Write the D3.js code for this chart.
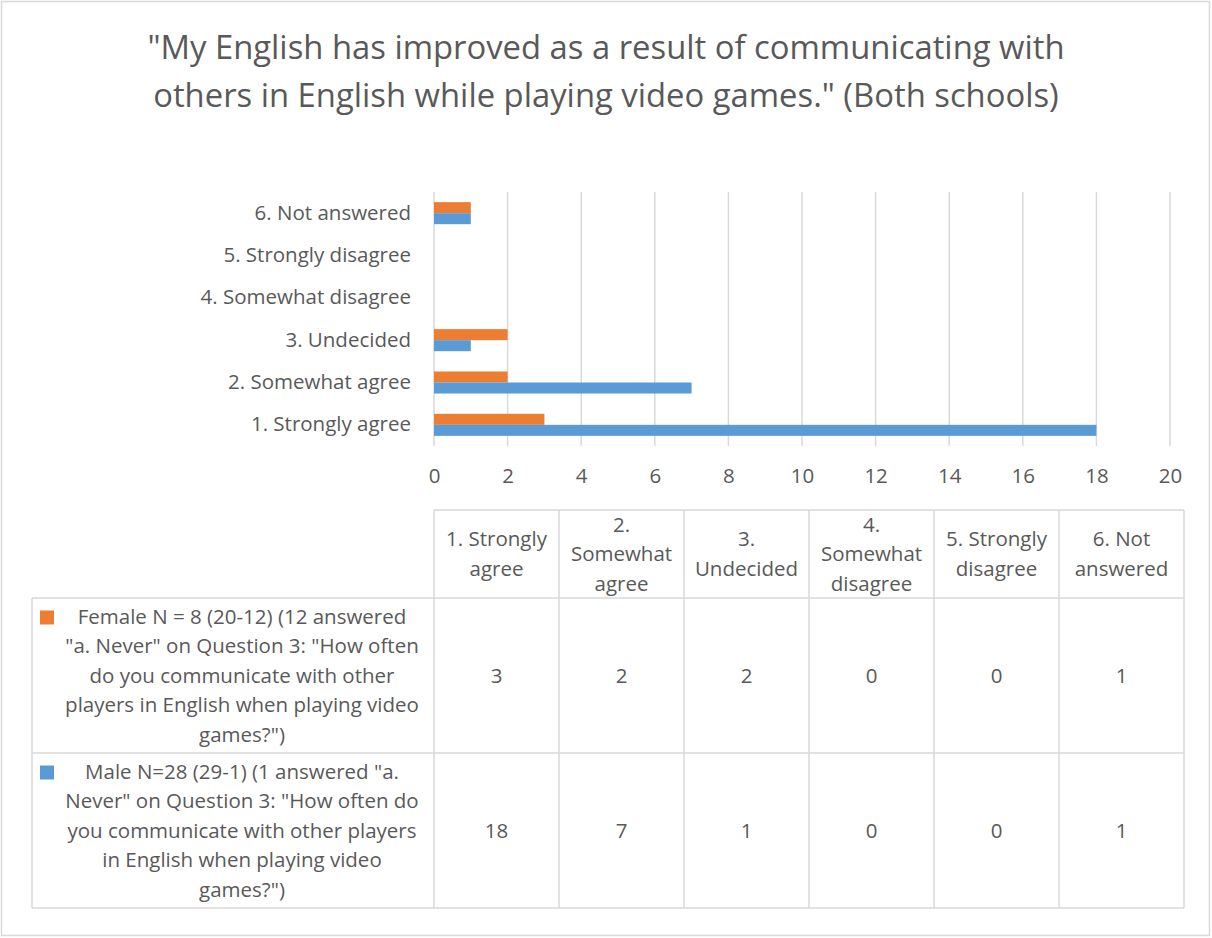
<!DOCTYPE html>
<html>
<head>
<meta charset="utf-8">
<script src="https://cdn.jsdelivr.net/npm/d3@7"></script>
<style>
  html, body { margin: 0; padding: 0; background: #fff; }
  svg text { font-family: "Open Sans", "Noto Sans", sans-serif; fill: #595959; }
</style>
</head>
<body>
<svg id="chart" width="1212" height="938"></svg>
<script>
// Survey responses by category
const categories = ["1. Strongly agree", "2. Somewhat agree", "3. Undecided",
                    "4. Somewhat disagree", "5. Strongly disagree", "6. Not answered"];
const headerLines = [["1. Strongly", "agree"], ["2.", "Somewhat", "agree"], ["3.", "Undecided"],
                     ["4.", "Somewhat", "disagree"], ["5. Strongly", "disagree"], ["6. Not", "answered"]];
const femaleValues = [3, 2, 2, 0, 0, 1];
const maleValues = [18, 7, 1, 0, 0, 1];
const xTicks = [0, 2, 4, 6, 8, 10, 12, 14, 16, 18, 20];
const titleLines = ["\"My English has improved as a result of communicating with",
                    "others in English while playing video games.\" (Both schools)"];
const femaleLegend = ["Female N = 8 (20-12) (12 answered", "\"a. Never\" on Question 3: \"How often",
                      "do you communicate with other", "players in English when playing video", "games?\")"];
const maleLegend = ["Male N=28 (29-1) (1 answered \"a.", "Never\" on Question 3: \"How often do",
                    "you communicate with other players", "in English when playing video", "games?\")"];

const series = [
  { key: "female", values: femaleValues, color: "#ED7D31", legend: femaleLegend },
  { key: "male", values: maleValues, color: "#5B9BD5", legend: maleLegend }
];

const svg = d3.select("#chart");
const gridColor = "#d9d9d9";
const fs = 20.5;

// chart frame
svg.append("rect").attr("x", 1.5).attr("y", 1.5).attr("width", 1208).attr("height", 934)
  .attr("fill", "#fff").attr("stroke", gridColor).attr("stroke-width", 1.5);

// title
svg.append("g").selectAll("text").data(titleLines).join("text")
  .attr("x", 606).attr("y", (d, i) => 59 + i * 48)
  .attr("text-anchor", "middle").attr("font-size", 32.8)
  .text(d => d);

// scales
const x = d3.scaleLinear().domain([0, 20]).range([434, 1170]);
const y = d3.scaleBand().domain(categories.slice().reverse()).range([192, 446]);
const ySub = d3.scaleBand().domain(series.map(s => s.key)).range([0, y.bandwidth()])
  .paddingInner(0).paddingOuter(0.92);

// vertical gridlines
svg.append("g").selectAll("line").data(xTicks).join("line")
  .attr("x1", d => x(d)).attr("x2", d => x(d))
  .attr("y1", 192).attr("y2", 446)
  .attr("stroke", gridColor).attr("stroke-width", 1.5);

// value axis labels
const xAxis = svg.append("g").attr("transform", "translate(0,446)")
  .call(d3.axisBottom(x).tickValues(xTicks).tickSize(0).tickPadding(22).tickFormat(d3.format("d")));
xAxis.select(".domain").remove();
xAxis.selectAll("text").attr("font-size", fs).attr("font-family", "Open Sans").attr("fill", "#595959");

// category labels
const yAxis = svg.append("g").attr("transform", "translate(434,0)")
  .call(d3.axisLeft(y).tickSize(0).tickPadding(23));
yAxis.select(".domain").remove();
yAxis.selectAll("text").attr("font-size", fs).attr("font-family", "Open Sans").attr("fill", "#595959");

// bars
series.forEach(s => {
  svg.append("g").selectAll("rect").data(categories.map((c, i) => ({ c, v: s.values[i] })))
    .join("rect")
    .attr("x", x(0))
    .attr("y", d => y(d.c) + ySub(s.key))
    .attr("width", d => x(d.v) - x(0))
    .attr("height", ySub.bandwidth())
    .attr("fill", s.color);
});

// data table
const colX = d3.scaleBand().domain(categories).range([434, 1184]);
const tableTop = 510, headerBottom = 598, rowBottoms = [753, 908], tableLeft = 32;
const tbl = svg.append("g").attr("stroke", gridColor).attr("stroke-width", 1.5);
// horizontal lines
tbl.append("line").attr("x1", 434).attr("x2", 1184).attr("y1", tableTop).attr("y2", tableTop);
[headerBottom, ...rowBottoms].forEach(yy =>
  tbl.append("line").attr("x1", tableLeft).attr("x2", 1184).attr("y1", yy).attr("y2", yy));
// vertical lines
tbl.append("line").attr("x1", tableLeft).attr("x2", tableLeft).attr("y1", headerBottom).attr("y2", rowBottoms[1]);
categories.forEach(c => tbl.append("line").attr("x1", colX(c)).attr("x2", colX(c))
  .attr("y1", tableTop).attr("y2", rowBottoms[1]));
tbl.append("line").attr("x1", 1184).attr("x2", 1184).attr("y1", tableTop).attr("y2", rowBottoms[1]);

// header cells
const lineH = 29.5;
categories.forEach((c, i) => {
  const lines = headerLines[i];
  const cy = (tableTop + headerBottom) / 2;
  svg.append("g").selectAll("text").data(lines).join("text")
    .attr("x", colX(c) + colX.bandwidth() / 2)
    .attr("y", (d, j) => cy + (j - (lines.length - 1) / 2) * lineH + 7)
    .attr("text-anchor", "middle").attr("font-size", fs).text(d => d);
});

// series rows
series.forEach((s, r) => {
  const top = r === 0 ? headerBottom : rowBottoms[0];
  const bottom = rowBottoms[r];
  const cy = (top + bottom) / 2;
  // legend key
  svg.append("rect").attr("x", 40).attr("y", cy - 2 * lineH - 6).attr("width", 14).attr("height", 14)
    .attr("fill", s.color);
  svg.append("g").selectAll("text").data(s.legend).join("text")
    .attr("x", 242)
    .attr("y", (d, j) => cy + (j - 2) * lineH + 7)
    .attr("text-anchor", "middle").attr("font-size", fs).text(d => d);
  // values
  svg.append("g").selectAll("text").data(categories).join("text")
    .attr("x", c => colX(c) + colX.bandwidth() / 2)
    .attr("y", cy + 7)
    .attr("text-anchor", "middle").attr("font-size", fs)
    .text((c, i) => s.values[i]);
});
</script>
</body>
</html>
